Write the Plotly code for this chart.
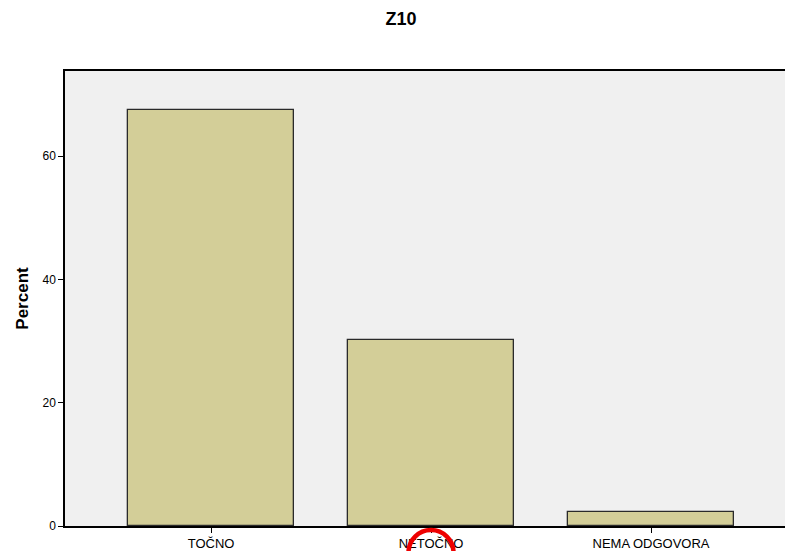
import plotly.graph_objects as go

# SPSS-style frequency bar chart for item Z10
categories = ['TOČNO', 'NETOČNO', 'NEMA ODGOVORA']
percent = [67.5, 30.2, 2.3]
y_ticks = [0, 20, 40, 60]

BAR = '#d3ce98'
EDGE = '#2a2a2a'
PLOT_BG = '#f0f0f0'
FONT = 'Liberation Sans, Arial, sans-serif'

W, H = 785, 551

fig = go.Figure(go.Bar(
    x=list(range(len(categories))),
    y=percent,
    width=0.755,
    marker=dict(color=BAR, line=dict(color=EDGE, width=1.3)),
    hoverinfo='skip',
))

fig.update_layout(
    width=W, height=H,
    paper_bgcolor='white',
    plot_bgcolor=PLOT_BG,
    font=dict(family=FONT, color='#000000', size=12),
    margin=dict(l=65, r=0, t=71, b=25),
    showlegend=False,
    title=dict(
        text='<b>Z10</b>', font=dict(size=18, color='#000000'),
        x=401 / W, xanchor='center', xref='container',
        y=1 - 19 / H, yanchor='middle', yref='container',
    ),
    bargap=0,
)

fig.update_xaxes(
    tickmode='array', tickvals=list(range(len(categories))), ticktext=categories,
    range=[-0.664, 2.609],
    showline=True, linecolor='#000000', linewidth=1.5, mirror=True,
    ticks='outside', ticklen=5, tickcolor='#000000', tickwidth=1,
    tickfont=dict(size=13, color='#000000'),
    showgrid=False, zeroline=False,
)
fig.update_yaxes(
    range=[0, 73.8],
    tickmode='array', tickvals=y_ticks,
    showline=True, linecolor='#000000', linewidth=1.5,
    ticks='outside', ticklen=5, tickcolor='#000000', tickwidth=1,
    tickfont=dict(size=12, color='#000000'),
    showgrid=False, zeroline=False,
    title=dict(text='<b>Percent</b>', font=dict(size=17, color='#000000'), standoff=10),
)

# red highlight ring drawn over the middle category label
fig.add_shape(
    type='circle', xref='paper', yref='paper',
    x0=(408.5 - 65) / 720, x1=(453.5 - 65) / 720,
    y0=(526 - 575) / 455, y1=(526 - 530) / 455,
    line=dict(color='#ee0000', width=4.5),
)

# drop the default page margin so the figure sits at the window's corner
fig.write_html(
    'out.html',
    config={'displayModeBar': False},
    post_script="document.body.style.margin='0';document.body.style.overflow='hidden';",
)
